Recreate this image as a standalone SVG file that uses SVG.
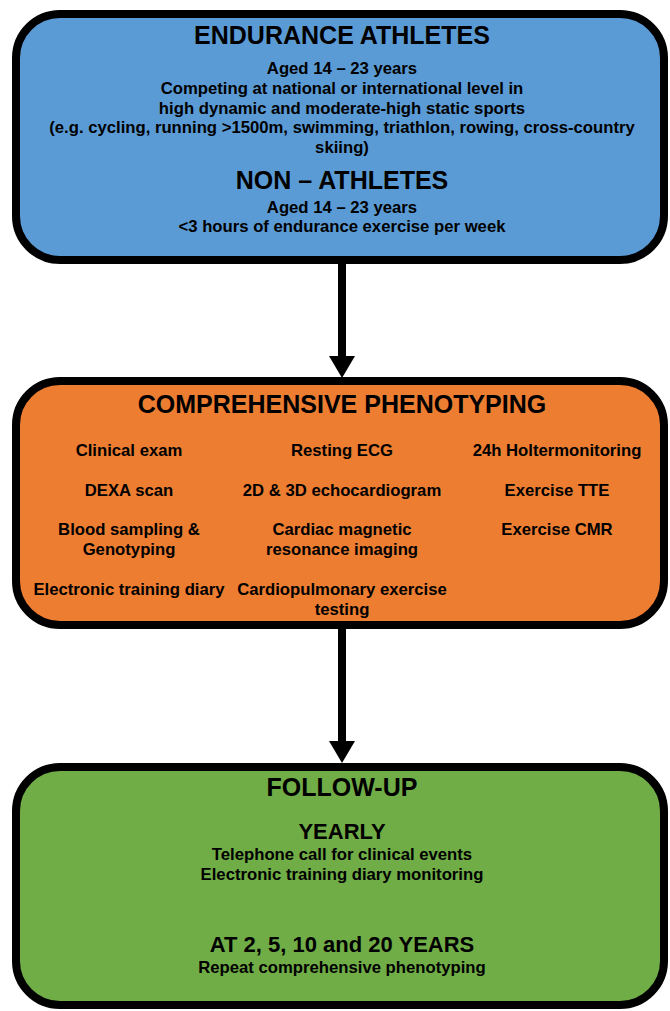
<svg xmlns="http://www.w3.org/2000/svg" width="670" height="1011" viewBox="0 0 670 1011">
<style>
.box{stroke:#000;stroke-width:8}
text{font-family:"Liberation Sans",Arial,sans-serif;font-weight:bold;fill:#000;text-anchor:middle}
.h{font-size:25px}
.s{font-size:16.7px}
.m{font-size:22px}
</style>
<g id="connectors">
<line x1="342" y1="264" x2="342" y2="358" stroke="#000" stroke-width="8"/>
<polygon points="329,356 355,356 342,378" fill="#000"/>
<line x1="342" y1="629" x2="342" y2="743" stroke="#000" stroke-width="8"/>
<polygon points="329,741 355,741 342,763" fill="#000"/>
</g>
<g id="participants">
<rect class="box" x="16" y="14" width="648" height="246" rx="44" fill="#5B9BD5"/>
<text class="h" x="342" y="44">ENDURANCE ATHLETES</text>
<text class="s" x="342" y="74">Aged 14 – 23 years</text>
<text class="s" x="342" y="94">Competing at national or international level in</text>
<text class="s" x="342" y="114">high dynamic and moderate-high static sports</text>
<text class="s" x="342" y="133">(e.g. cycling, running &gt;1500m, swimming, triathlon, rowing, cross-country</text>
<text class="s" x="342" y="153">skiing)</text>
<text class="h" x="342" y="189">NON – ATHLETES</text>
<text class="s" x="342" y="213">Aged 14 – 23 years</text>
<text class="s" x="342" y="232">&lt;3 hours of endurance exercise per week</text>
</g>
<g id="phenotyping">
<rect class="box" x="16" y="381" width="648" height="244" rx="44" fill="#ED7D31"/>
<text class="h" x="342" y="413">COMPREHENSIVE PHENOTYPING</text>
<text class="s" x="129" y="456">Clinical exam</text>
<text class="s" x="342" y="456">Resting ECG</text>
<text class="s" x="557" y="456">24h Holtermonitoring</text>
<text class="s" x="129" y="496">DEXA scan</text>
<text class="s" x="342" y="496">2D &amp; 3D echocardiogram</text>
<text class="s" x="557" y="496">Exercise TTE</text>
<text class="s" x="129" y="535">Blood sampling &amp;</text>
<text class="s" x="129" y="555">Genotyping</text>
<text class="s" x="342" y="535">Cardiac magnetic</text>
<text class="s" x="342" y="555">resonance imaging</text>
<text class="s" x="557" y="535">Exercise CMR</text>
<text class="s" x="129" y="595">Electronic training diary</text>
<text class="s" x="342" y="595">Cardiopulmonary exercise</text>
<text class="s" x="342" y="615">testing</text>
</g>
<g id="followup">
<rect class="box" x="16" y="767" width="648" height="238" rx="44" fill="#70AD47"/>
<text class="h" x="342" y="796">FOLLOW-UP</text>
<text class="m" x="342" y="839">YEARLY</text>
<text class="s" x="342" y="860">Telephone call for clinical events</text>
<text class="s" x="342" y="880">Electronic training diary monitoring</text>
<text class="m" x="342" y="952">AT 2, 5, 10 and 20 YEARS</text>
<text class="s" x="342" y="973">Repeat comprehensive phenotyping</text>
</g>
</svg>
